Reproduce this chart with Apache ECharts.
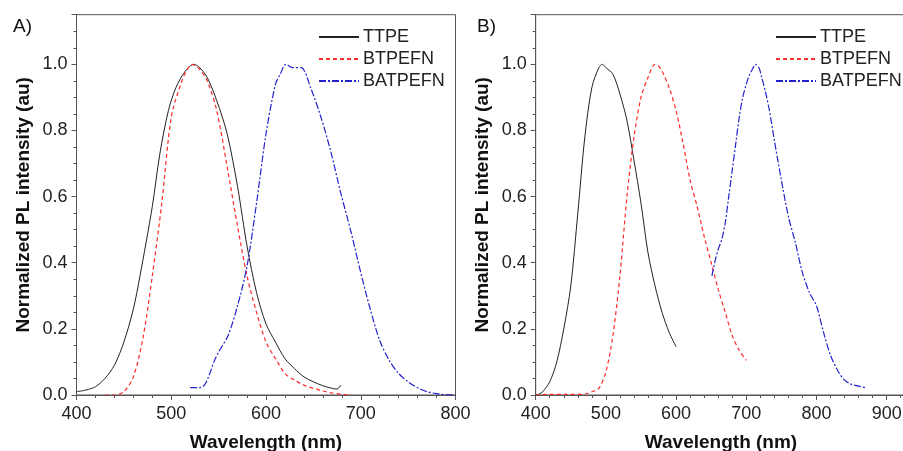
<!DOCTYPE html>
<html>
<head>
<meta charset="utf-8">
<script src="https://cdn.jsdelivr.net/npm/echarts@6/dist/echarts.min.js"></script>
<style>html,body{margin:0;padding:0;background:#fff}#c{width:903px;height:451px}</style>
</head>
<body>
<div id="c"></div>
<script>
// Panel A
const ttpeA_x = [400,410,420,430,440,450,460,467,480,488,497,505,515,524,530,538,548,559,570,580,590,600,610,620,630,640,650,660,670,675,679];
const ttpeA_y = [0.01,0.015,0.025,0.05,0.09,0.16,0.26,0.36,0.57,0.73,0.86,0.93,0.98,1.0,0.99,0.96,0.89,0.79,0.63,0.45,0.31,0.215,0.16,0.11,0.08,0.055,0.04,0.028,0.02,0.018,0.03];
const btpefnA_x = [430,440,450,460,470,480,490,500,510,516,522,530,538,548,559,570,580,590,600,610,620,630,640,650,660,670,680,690];
const btpefnA_y = [0,0,0.01,0.055,0.17,0.36,0.58,0.84,0.94,0.98,1.0,0.985,0.95,0.86,0.69,0.51,0.36,0.25,0.16,0.11,0.065,0.045,0.03,0.02,0.012,0.006,0.002,0];
const batpefnA_x = [520,530,535,540,545,550,560,570,580,590,600,610,615,621,628,637,647,658,668,679,690,700,710,720,730,740,750,760,770,780,790,800];
const batpefnA_y = [0.022,0.022,0.03,0.06,0.1,0.13,0.18,0.27,0.39,0.58,0.79,0.94,0.97,1.0,0.99,0.99,0.93,0.84,0.74,0.61,0.49,0.37,0.26,0.165,0.105,0.065,0.04,0.022,0.01,0.004,0.001,0];
// Panel B
const ttpeB_x = [400,405,410,420,430,440,450,460,470,480,490,495,500,510,520,530,540,550,560,570,580,590,600];
const ttpeB_y = [0,0.003,0.01,0.04,0.1,0.2,0.33,0.55,0.78,0.93,0.99,1.0,0.99,0.97,0.91,0.83,0.71,0.58,0.43,0.33,0.25,0.19,0.146];
const btpefnB_x = [400,420,440,460,470,480,490,500,510,520,530,540,550,560,570,575,580,590,600,610,620,630,640,650,660,670,680,690,700];
const btpefnB_y = [0,0.002,0.002,0.002,0.003,0.01,0.02,0.07,0.18,0.36,0.6,0.78,0.9,0.96,1.0,0.995,0.98,0.93,0.86,0.76,0.65,0.57,0.48,0.4,0.32,0.25,0.18,0.135,0.105];
const batpefnB_x = [651,655,660,665,670,675,680,685,690,695,700,705,710,713,718,722,727,733,740,750,760,770,780,790,800,810,820,830,840,850,860,870];
const batpefnB_y = [0.36,0.4,0.44,0.47,0.52,0.6,0.68,0.76,0.84,0.9,0.94,0.97,0.99,1.0,0.99,0.96,0.92,0.86,0.77,0.65,0.54,0.46,0.37,0.31,0.27,0.19,0.12,0.075,0.045,0.032,0.027,0.022];

const seriesNames = ['TTPE','BTPEFN','BATPEFN'];
const xTicksA = [400, 800, 100];
const xTicksB = [400, 928, 100];

const FONT = 'Liberation Sans, Arial, sans-serif';
const pair = (xs, ys) => xs.map((x, i) => [x, ys[i]]);
const styles = {
  TTPE: {color: '#222222', width: 1, type: 'solid'},
  BTPEFN: {color: '#ff2a2a', width: 1.2, type: [4, 3]},
  BATPEFN: {color: '#2222cc', width: 1.2, type: [7, 2, 2, 2]}
};
function mkSeries(name, data, idx) {
  const s = styles[name];
  return {name, type: 'line', data, xAxisIndex: idx, yAxisIndex: idx, symbol: 'none', smooth: 0.3,
    lineStyle: {color: s.color, width: s.width, type: s.type}, itemStyle: {color: s.color}, z: 3};
}
function mkX(idx, t) {
  return {type: 'value', gridIndex: idx, min: t[0], max: t[1], interval: t[2],
    name: 'Wavelength (nm)', nameLocation: 'middle', nameGap: 38,
    nameTextStyle: {fontFamily: FONT, fontWeight: 'bold', fontSize: 19, color: '#111'},
    axisLine: {show: true, lineStyle: {color: '#555', width: 1}},
    axisTick: {show: true, length: 5, lineStyle: {color: '#555'}},
    minorTick: {show: true, splitNumber: 5, length: 3, lineStyle: {color: '#555'}},
    splitLine: {show: false},
    axisLabel: {fontFamily: FONT, fontSize: 18, color: '#222', margin: 10, showMaxLabel: t[1] % t[2] === 0}
  };
}
function mkY(idx) {
  return {type: 'value', gridIndex: idx, min: 0, max: 1.15, interval: 0.2,
    name: 'Normalized PL intensity (au)', nameLocation: 'middle', nameGap: 43,
    nameTextStyle: {fontFamily: FONT, fontWeight: 'bold', fontSize: 19, color: '#111'},
    axisLine: {show: true, lineStyle: {color: '#555', width: 1}},
    axisTick: {show: true, length: 5, lineStyle: {color: '#555'}},
    minorTick: {show: true, splitNumber: 4, length: 3, lineStyle: {color: '#555'}},
    splitLine: {show: false},
    axisLabel: {fontFamily: FONT, fontSize: 18, color: '#222', margin: 9, showMaxLabel: false,
      formatter: v => v.toFixed(1)}
  };
}
function mkLegend(left) {
  return {data: seriesNames, orient: 'vertical', left, top: 28, padding: 0, itemWidth: 40, itemHeight: 14, itemGap: 4,
    selectedMode: false,
    itemStyle: {color: 'transparent', borderWidth: 0, opacity: 0},
    textStyle: {fontFamily: FONT, fontSize: 18, color: '#222', padding: [0, 0, 0, -1]}};
}
const chart = echarts.init(document.getElementById('c'), null, {renderer: 'canvas'});
chart.setOption({
  backgroundColor: '#fff',
  animation: false,
  title: [
    {text: 'A)', left: 8, top: 12, textStyle: {fontFamily: FONT, fontSize: 19, fontWeight: 'normal', color: '#111'}},
    {text: 'B)', left: 472, top: 12, textStyle: {fontFamily: FONT, fontSize: 19, fontWeight: 'normal', color: '#111'}}
  ],
  legend: [mkLegend(318), mkLegend(775)],
  grid: [
    {left: 76.5, width: 379, top: 14.7, bottom: 56, show: true, borderColor: '#555', borderWidth: 1, backgroundColor: 'transparent', outerBoundsMode: 'none', containLabel: false},
    {left: 535.7, width: 370.6, top: 14.7, bottom: 56, show: true, borderColor: '#555', borderWidth: 1, backgroundColor: 'transparent', outerBoundsMode: 'none', containLabel: false}
  ],
  xAxis: [mkX(0, xTicksA), mkX(1, xTicksB)],
  yAxis: [mkY(0), mkY(1)],
  series: [
    mkSeries('TTPE', pair(ttpeA_x, ttpeA_y), 0),
    mkSeries('BTPEFN', pair(btpefnA_x, btpefnA_y), 0),
    mkSeries('BATPEFN', pair(batpefnA_x, batpefnA_y), 0),
    mkSeries('TTPE', pair(ttpeB_x, ttpeB_y), 1),
    mkSeries('BTPEFN', pair(btpefnB_x, btpefnB_y), 1),
    mkSeries('BATPEFN', pair(batpefnB_x, batpefnB_y), 1)
  ]
});
</script>
</body>
</html>
